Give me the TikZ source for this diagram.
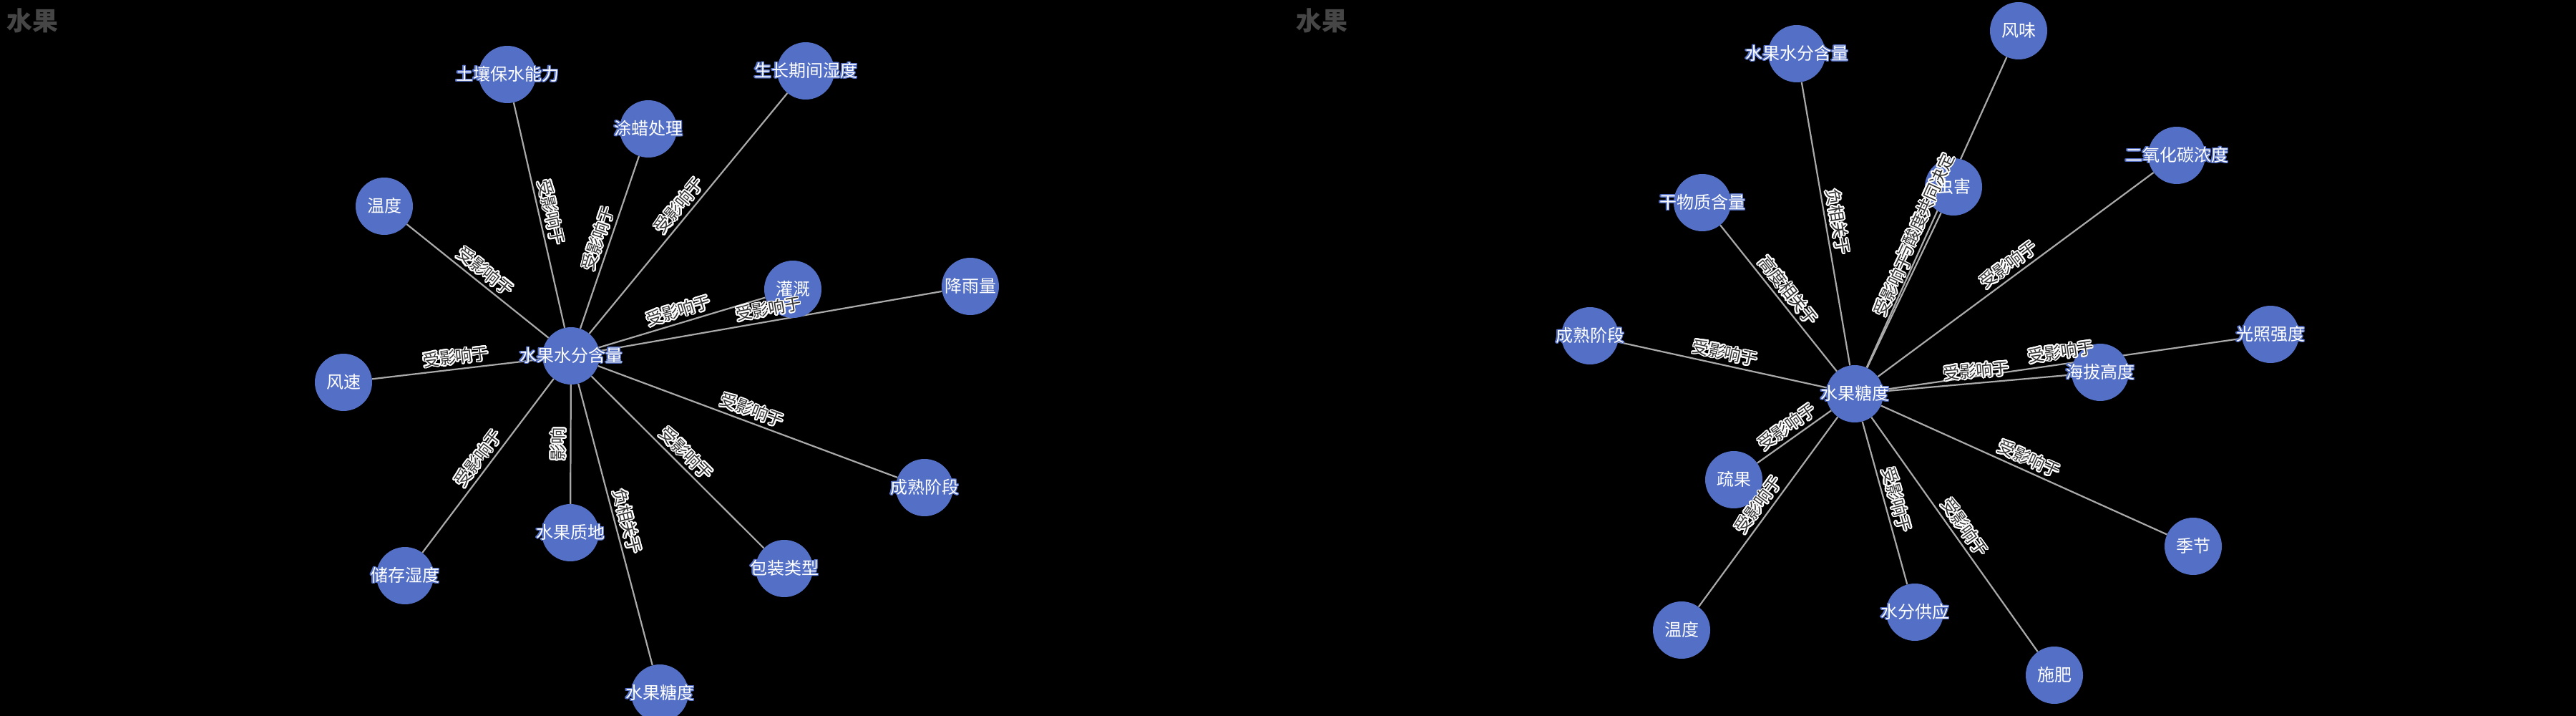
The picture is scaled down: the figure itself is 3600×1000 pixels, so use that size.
\documentclass[tikz,border=0pt]{standalone}
\usepackage{fontspec}
\setmainfont{Noto Sans CJK SC}
\usepackage[copies]{contour}
\usetikzlibrary{backgrounds}
\definecolor{NodeBlue}{HTML}{5470C6}
\definecolor{EdgeGray}{HTML}{AAAAAA}
\definecolor{LabelGray}{HTML}{333333}
\definecolor{TitleGray}{HTML}{464646}
\newcommand{\nodetext}[1]{\contourlength{1.4pt}\contour{NodeBlue}{#1}}
\newcommand{\edgetext}[1]{\contourlength{1.8pt}\contour{white}{#1}}

\begin{document}
\begin{tikzpicture}[x=1pt,y=-1pt,
  vert/.style={circle,fill=NodeBlue,minimum size=80pt,inner sep=0pt,
    label={[text=white,font=\fontsize{24}{28}\selectfont]center:\nodetext{#1}}},
  edge/.style={draw=EdgeGray,line width=2.2pt},
  elab/.style={midway,sloped,above,inner sep=5pt,text=LabelGray,font=\fontsize{23}{27}\selectfont},
  title/.style={anchor=base west,inner sep=0pt,text=TitleGray,font=\fontsize{36}{40}\selectfont\bfseries}]
  \useasboundingbox (0,0) rectangle (3600,1000);
  \begin{scope}[on background layer]
    \fill[black] (0,0) rectangle (3600,1000);
  \end{scope}

  % left panel
  \node[title] (title1) at (9,43) {水果};
  \node[vert=水果水分含量] (wc) at (798,497) {};
  \node[vert=土壤保水能力] (soil) at (709,104) {};
  \node[vert=生长期间湿度] (growhum) at (1126,99) {};
  \node[vert=涂蜡处理] (wax) at (906,180) {};
  \node[vert=温度] (temp) at (537,288) {};
  \node[vert=灌溉] (irrig) at (1108,404) {};
  \node[vert=降雨量] (rain) at (1356,400) {};
  \node[vert=风速] (wind) at (480,534) {};
  \node[vert=成熟阶段] (ripe) at (1292,681) {};
  \node[vert=水果质地] (texture) at (797,744) {};
  \node[vert=储存湿度] (storehum) at (566,804) {};
  \node[vert=包装类型] (pack) at (1096,794) {};
  \node[vert=水果糖度] (sugar) at (922,968) {};

  \foreach \dst/\rel in {soil/受影响于,growhum/受影响于,wax/受影响于,temp/受影响于,
      irrig/受影响于,rain/受影响于,wind/受影响于,ripe/受影响于,texture/影响,
      storehum/受影响于,pack/受影响于,sugar/负相关于}{
    \begin{scope}[on background layer]
      \draw[edge] (wc) -- (\dst);
    \end{scope}
    \path (wc) -- (\dst) node[elab] {\edgetext{\rel}};
  }

  % right panel
  \node[title] (title2) at (1811,43) {水果};
  \node[vert=水果糖度] (sc) at (2592,550) {};
  \node[vert=风味] (flavor) at (2821,43) {};
  \node[vert=水果水分含量] (wc2) at (2511,75) {};
  \node[vert=二氧化碳浓度] (co2) at (3042,217) {};
  \node[vert=虫害] (pest) at (2730,261) {};
  \node[vert=干物质含量] (dry) at (2379,283) {};
  \node[vert=成熟阶段] (ripe2) at (2222,469) {};
  \node[vert=光照强度] (light) at (3173,467) {};
  \node[vert=海拔高度] (alt) at (2935,520) {};
  \node[vert=疏果] (thin) at (2423,670) {};
  \node[vert=季节] (season) at (3065,763) {};
  \node[vert=温度] (temp2) at (2350,880) {};
  \node[vert=水分供应] (water) at (2676,855) {};
  \node[vert=施肥] (fert) at (2871,943) {};

  \foreach \dst/\rel in {flavor/与酸度共同决定,wc2/负相关于,co2/受影响于,pest/受影响于,
      dry/高度相关于,ripe2/受影响于,light/受影响于,alt/受影响于,thin/受影响于,
      season/受影响于,temp2/受影响于,water/受影响于,fert/受影响于}{
    \begin{scope}[on background layer]
      \draw[edge] (sc) -- (\dst);
    \end{scope}
    \path (sc) -- (\dst) node[elab] {\edgetext{\rel}};
  }
\end{tikzpicture}
\end{document}
